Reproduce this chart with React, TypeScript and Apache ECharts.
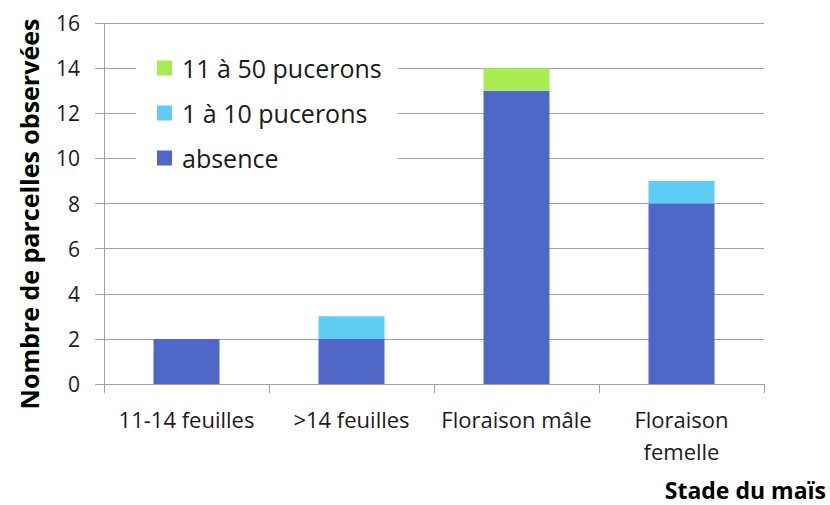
import React, { useEffect, useRef } from "react";
import * as echarts from "echarts";

const categories = ["11-14 feuilles", ">14 feuilles", "Floraison mâle", "Floraison\nfemelle"];
const absence = [2, 2, 13, 8];
const pucerons1to10 = [0, 1, 0, 1];
const pucerons11to50 = [0, 0, 1, 0];
const seriesNames = ["absence", "1 à 10 pucerons", "11 à 50 pucerons"];
const yTicks = { min: 0, max: 16, interval: 2 };

const FONT = "'Open Sans', 'Noto Sans', sans-serif";

export default function App() {
  const ref = useRef<HTMLDivElement>(null);
  useEffect(() => {
    if (!ref.current) return;
    const chart = echarts.init(ref.current, undefined, { renderer: "svg" });
    chart.setOption({
      animation: false,
      backgroundColor: "#ffffff",
      textStyle: { fontFamily: FONT },
      grid: { left: 104, right: 66, top: 23, bottom: 121, containLabel: false },
      legend: {
        orient: "vertical",
        left: 136,
        top: 48,
        data: [seriesNames[2], seriesNames[1], seriesNames[0]],
        icon: "rect",
        itemWidth: 15,
        itemHeight: 15,
        itemGap: 17,
        backgroundColor: "#ffffff",
        padding: [6, 16, 14, 21],
        textStyle: { fontFamily: FONT, fontSize: 25, color: "#1a1a1a", lineHeight: 28, padding: [0, 0, 0, 5] },
      },
      xAxis: {
        type: "category",
        data: categories,
        axisLine: { show: true, lineStyle: { color: "#a0a0a0", width: 1 } },
        axisTick: { show: true, length: 9, lineStyle: { color: "#a0a0a0" } },
        axisLabel: { fontFamily: FONT, fontSize: 22, color: "#1a1a1a", margin: 19, lineHeight: 32, interval: 0 },
      },
      yAxis: {
        type: "value",
        min: yTicks.min,
        max: yTicks.max,
        interval: yTicks.interval,
        axisLine: { show: true, lineStyle: { color: "#a0a0a0", width: 1 } },
        axisTick: { show: true, length: 9, lineStyle: { color: "#a0a0a0" } },
        splitLine: { show: true, lineStyle: { color: "#a0a0a0", width: 1 } },
        axisLabel: { fontFamily: FONT, fontSize: 21, color: "#1a1a1a", margin: 24 },
      },
      graphic: [
        {
          type: "text",
          x: 29,
          y: 214,
          rotation: Math.PI / 2,
          style: {
            text: "Nombre de parcelles observées",
            font: `bold 25px ${FONT}`,
            fill: "#000000",
            textAlign: "center",
            textVerticalAlign: "middle",
          },
        },
        {
          type: "text",
          x: 826,
          y: 490,
          style: {
            text: "Stade du maïs",
            font: `bold 23px ${FONT}`,
            fill: "#000000",
            textAlign: "right",
            textVerticalAlign: "middle",
          },
        },
      ],
      series: [
        {
          name: seriesNames[0],
          type: "bar",
          stack: "total",
          data: absence,
          barWidth: "40%",
          itemStyle: { color: "#4F68C8" },
        },
        {
          name: seriesNames[1],
          type: "bar",
          stack: "total",
          data: pucerons1to10,
          barWidth: "40%",
          itemStyle: { color: "#5ECCF3" },
        },
        {
          name: seriesNames[2],
          type: "bar",
          stack: "total",
          data: pucerons11to50,
          barWidth: "40%",
          itemStyle: { color: "#A8EB52" },
        },
      ],
    });
    return () => chart.dispose();
  }, []);
  return <div ref={ref} style={{ position: "absolute", left: 0, top: 0, width: 830, height: 505 }} />;
}
